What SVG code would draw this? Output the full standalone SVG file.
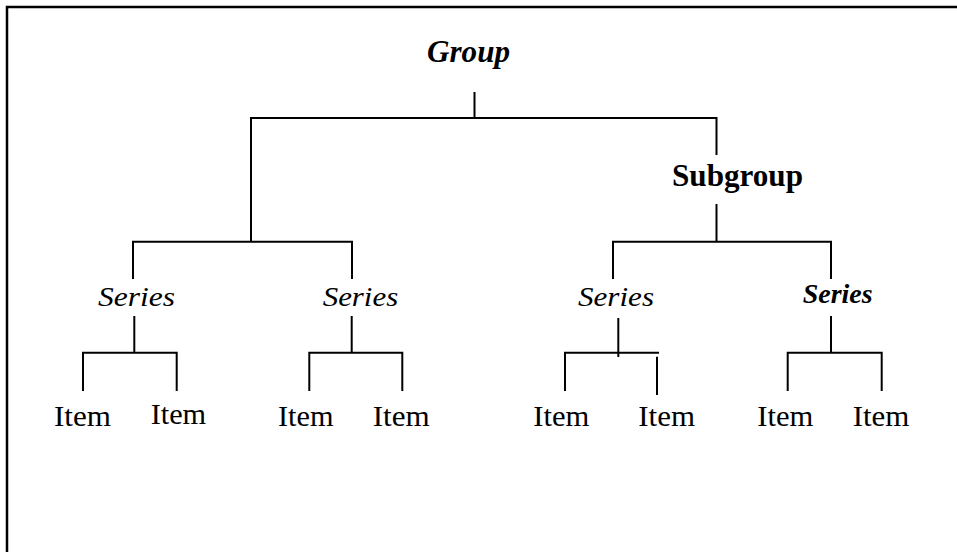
<svg xmlns="http://www.w3.org/2000/svg" width="957" height="552" viewBox="0 0 957 552">
  <style>
    .frame { fill: none; stroke: #000; stroke-width: 2.5; }
    .link { fill: none; stroke: #000; stroke-width: 2; stroke-linecap: butt; }
    text { fill: #000; }
    .group { font-size: 31px; font-weight: bold; font-style: italic; }
    .subgroup { font-size: 31px; font-weight: bold; }
    .series { font-size: 28px; font-style: italic; }
    .series-b { font-size: 27px; font-style: italic; font-weight: bold; }
    .item { font-size: 29px; }
  </style>
  <rect width="957" height="552" fill="#fff"/>

  <!-- open frame: top and left edges -->
  <path class="frame" d="M7 552 V7 H957"/>

  <g id="connectors">
    <!-- group level -->
    <path class="link" d="M474.5 92 V118"/>
    <path class="link" d="M251 241.7 V118 H716.5 V155"/>
    <!-- left branch to two series -->
    <path class="link" d="M133 279 V241.7 H352 V279"/>
    <!-- subgroup to two series -->
    <path class="link" d="M716.5 204 V241.7"/>
    <path class="link" d="M613 279 V241.7 H831 V279"/>
    <!-- series 1 -->
    <path class="link" d="M134.3 316 V352.7"/>
    <path class="link" d="M83 391 V352.7 H176.7 V391"/>
    <!-- series 2 -->
    <path class="link" d="M351.7 316 V352.7"/>
    <path class="link" d="M309.3 391 V352.7 H402.3 V391"/>
    <!-- series 3 -->
    <path class="link" d="M618.3 318 V357"/>
    <path class="link" d="M565 391 V352.7 H659"/>
    <path class="link" d="M657 356.7 V395"/>
    <!-- series 4 -->
    <path class="link" d="M831 316 V352.7"/>
    <path class="link" d="M787.7 391 V352.7 H881.7 V391"/>
  </g>

  <g font-family="Liberation Serif, Tinos, Times New Roman, Times, Nimbus Roman, FreeSerif, serif">
    <g id="node-group">
      <text class="group" x="427" y="62" textLength="83" lengthAdjust="spacingAndGlyphs">Group</text>
    </g>
    <g id="node-subgroup">
      <text class="subgroup" x="672" y="186" textLength="131" lengthAdjust="spacingAndGlyphs">Subgroup</text>
    </g>

    <g id="node-series-1">
      <text class="series" x="98" y="305.7" textLength="77" lengthAdjust="spacingAndGlyphs">Series</text>
    </g>
    <g id="node-series-2">
      <text class="series" x="322.7" y="305.7" textLength="75.5" lengthAdjust="spacingAndGlyphs">Series</text>
    </g>
    <g id="node-series-3">
      <text class="series" x="578" y="305.7" textLength="76" lengthAdjust="spacingAndGlyphs">Series</text>
    </g>
    <g id="node-series-4">
      <text class="series-b" x="802.7" y="302.7" textLength="70" lengthAdjust="spacingAndGlyphs">Series</text>
    </g>

    <g id="node-item-1"><text class="item" x="54" y="425.7" textLength="57" lengthAdjust="spacingAndGlyphs">Item</text></g>
    <g id="node-item-2"><text class="item" x="150.7" y="424" textLength="55.5" lengthAdjust="spacingAndGlyphs">Item</text></g>
    <g id="node-item-3"><text class="item" x="278" y="425.7" textLength="55.5" lengthAdjust="spacingAndGlyphs">Item</text></g>
    <g id="node-item-4"><text class="item" x="372.7" y="425.7" textLength="57" lengthAdjust="spacingAndGlyphs">Item</text></g>
    <g id="node-item-5"><text class="item" x="533.3" y="425.7" textLength="56" lengthAdjust="spacingAndGlyphs">Item</text></g>
    <g id="node-item-6"><text class="item" x="638.3" y="425.7" textLength="56.7" lengthAdjust="spacingAndGlyphs">Item</text></g>
    <g id="node-item-7"><text class="item" x="757.3" y="425.7" textLength="56" lengthAdjust="spacingAndGlyphs">Item</text></g>
    <g id="node-item-8"><text class="item" x="852.7" y="425.7" textLength="56.7" lengthAdjust="spacingAndGlyphs">Item</text></g>
  </g>
</svg>
